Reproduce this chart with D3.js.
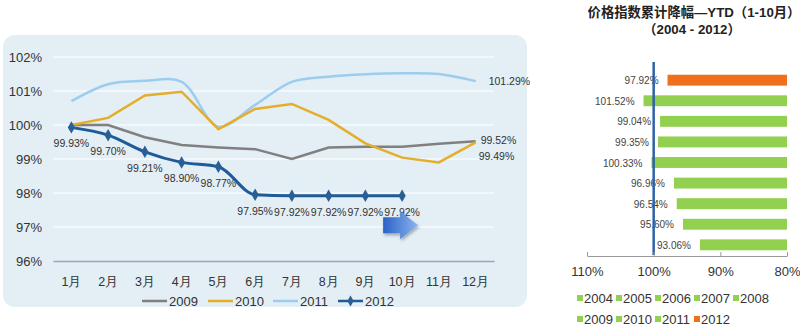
<!DOCTYPE html>
<html><head><meta charset="utf-8">
<script src="https://cdn.jsdelivr.net/npm/d3@7"></script>
<style>
html,body{margin:0;padding:0;background:#fff;}
svg{display:block;font-family:"Liberation Sans","Noto Sans CJK SC",Arial,sans-serif;}
</style></head>
<body>
<svg id="c" width="800" height="336"></svg>
<script>
// ---------- data ----------
const months = ["1月","2月","3月","4月","5月","6月","7月","8月","9月","10月","11月","12月"];
const yTicks = [96, 97, 98, 99, 100, 101, 102];
const s2009 = [100.00, 100.00, 99.64, 99.41, 99.34, 99.29, 99.00, 99.34, 99.36, 99.36, 99.45, 99.52];
const s2010 = [100.00, 100.21, 100.87, 100.98, 99.88, 100.47, 100.62, 100.15, 99.46, 99.04, 98.90, 99.49];
const s2011 = [100.70, 101.20, 101.30, 101.27, 99.95, 100.59, 101.27, 101.42, 101.49, 101.52, 101.50, 101.29];
const s2012 = [99.93, 99.70, 99.21, 98.90, 98.77, 97.95, 97.92, 97.92, 97.92, 97.92];
const seriesNames = ["2009", "2010", "2011", "2012"];

const barYears = ["2012", "2011", "2010", "2009", "2008", "2007", "2006", "2005", "2004"];
const barValues = [97.92, 101.52, 99.04, 99.35, 100.33, 96.96, 96.54, 95.60, 93.06];
const barTicks = [110, 100, 90, 80];
const legendYears = ["2004","2005","2006","2007","2008","2009","2010","2011","2012"];

// ---------- left chart ----------
const svg = d3.select("#c");
const defs = svg.append("defs");
const grad = defs.append("linearGradient").attr("id","arrowG").attr("x1","0").attr("x2","1").attr("y1","0").attr("y2","0");
grad.append("stop").attr("offset","0").attr("stop-color","#2a62c8");
grad.append("stop").attr("offset","1").attr("stop-color","#8db4ee");
const sh = defs.append("filter").attr("id","sh").attr("x","-10%").attr("y","-10%").attr("width","130%").attr("height","140%");
sh.append("feDropShadow").attr("dx",1).attr("dy",2).attr("stdDeviation",1.5).attr("flood-color","#000").attr("flood-opacity",0.3);

svg.append("rect").attr("x",3).attr("y",35).attr("width",524).attr("height",272)
  .attr("rx",12).attr("fill","#e3eef5");

const x = d3.scaleBand().domain(months).range([53, 494]);
const y = d3.scaleLinear().domain([96, 102]).range([261, 57]);
const cx = (i) => x(months[i]) + x.bandwidth()/2;

// gridlines
svg.append("g").selectAll("line").data(yTicks.filter(t => t !== 96)).join("line")
  .attr("x1",53).attr("x2",494).attr("y1",d=>y(d)).attr("y2",d=>y(d))
  .attr("stroke","#ffffff").attr("stroke-width",1.2);

// y axis labels
const yAxis = d3.axisLeft(y).tickValues(yTicks).tickFormat(d => d + "%").tickSize(0).tickPadding(11);
const gy = svg.append("g").attr("transform","translate(53,0)").call(yAxis);
gy.select(".domain").remove();
gy.selectAll("text").attr("font-size",13).attr("fill","#333");

// x axis
const xAxis = d3.axisBottom(x).tickSize(0).tickPadding(16);
const gx = svg.append("g").attr("transform",`translate(0,${y(96)})`).call(xAxis);
gx.select(".domain").attr("stroke","#9aa7b2").attr("stroke-width",1.5);
gx.selectAll("text").attr("font-size",12.5).attr("fill","#333");

const lineL = d3.line().x((d,i)=>cx(i)).y(d=>y(d));
const lineS = d3.line().x((d,i)=>cx(i)).y(d=>y(d)).curve(d3.curveMonotoneX);
const lineC = d3.line().x((d,i)=>cx(i)).y(d=>y(d)).curve(d3.curveCatmullRom.alpha(0.5));

svg.append("path").datum(s2011).attr("d",lineC).attr("fill","none").attr("stroke","#9ccdee").attr("stroke-width",2.5);
svg.append("path").datum(s2009).attr("d",lineL).attr("fill","none").attr("stroke","#808080").attr("stroke-width",2.5);
svg.append("path").datum(s2010).attr("d",lineL).attr("fill","none").attr("stroke","#e5ae2a").attr("stroke-width",2.5);
svg.append("path").datum(s2012).attr("d",lineS).attr("fill","none").attr("stroke","#1f5b98").attr("stroke-width",3);

const diamond = d3.symbol().type(d3.symbolDiamond).size(45);
svg.append("g").selectAll("path").data(s2012).join("path")
  .attr("d",diamond).attr("transform",(d,i)=>`translate(${cx(i)},${y(d)})`).attr("fill","#2a5f96");

svg.append("g").selectAll("text").data(s2012).join("text")
  .attr("x",(d,i)=>cx(i)).attr("y",d=>y(d)+20)
  .attr("text-anchor","middle").attr("font-size",10.5).attr("fill","#333")
  .text(d=>d.toFixed(2)+"%");

// end labels
const endLabels = [
  {v: s2011[11], t: s2011[11].toFixed(2)+"%", dx: 13, dy: 4},
  {v: s2009[11], t: s2009[11].toFixed(2)+"%", dx: 5, dy: 3},
  {v: s2010[11], t: s2010[11].toFixed(2)+"%", dx: 3, dy: 18}
];
svg.append("g").selectAll("text").data(endLabels).join("text")
  .attr("x",d=>cx(11)+d.dx).attr("y",d=>y(d.v)+d.dy)
  .attr("font-size",10.5).attr("fill","#333").text(d=>d.t);

// arrow
const ax0 = cx(9) - 19, ay = y(97.05);
svg.append("path")
  .attr("d",`M${ax0},${ay-8} L${ax0+17},${ay-8} L${ax0+17},${ay-14} L${ax0+35},${ay} L${ax0+17},${ay+14} L${ax0+17},${ay+8} L${ax0},${ay+8} Z`)
  .attr("fill","url(#arrowG)").attr("filter","url(#sh)");

// legend
const legColors = {"2009":"#808080","2010":"#e5ae2a","2011":"#9ccdee","2012":"#1f5b98"};
const legX = [142, 208, 273, 338];
const lg = svg.append("g").selectAll("g").data(seriesNames).join("g")
  .attr("transform",(d,i)=>`translate(${legX[i]},301)`);
lg.append("line").attr("x1",0).attr("x2",25).attr("stroke",d=>legColors[d]).attr("stroke-width",2.5);
lg.filter(d=>d==="2012").append("path").attr("d",d3.symbol().type(d3.symbolDiamond).size(35)).attr("transform","translate(12.5,0)").attr("fill","#2a5f96");
lg.append("text").attr("x",27).attr("y",5).attr("font-size",13).attr("fill","#333").text(d=>d);

// ---------- right chart ----------
svg.append("text").attr("x",694).attr("y",17).attr("text-anchor","middle")
  .attr("font-size",13.3).attr("font-weight","bold").attr("fill","#222")
  .text("价格指数累计降幅—YTD（1-10月）");
svg.append("text").attr("x",692).attr("y",34).attr("text-anchor","middle")
  .attr("font-size",13.3).attr("font-weight","bold").attr("fill","#222")
  .text("（2004 - 2012）");

const bx = d3.scaleLinear().domain([110, 80]).range([587, 787]);
const by = d3.scaleBand().domain(barYears).range([70, 255]).paddingInner(0.47).paddingOuter(0.23);

svg.append("g").selectAll("rect").data(barValues).join("rect")
  .attr("x",d=>bx(d)).attr("width",d=>bx(80)-bx(d))
  .attr("y",(d,i)=>by(barYears[i])).attr("height",by.bandwidth())
  .attr("fill",(d,i)=>barYears[i]==="2012" ? "#ef6f1f" : "#92d050");

svg.append("g").selectAll("text").data(barValues).join("text")
  .attr("x",d=>bx(d)-9).attr("y",(d,i)=>by(barYears[i])+by.bandwidth()/2+4)
  .attr("text-anchor","end").attr("font-size",10).attr("fill","#444")
  .text(d=>d.toFixed(2)+"%");

svg.append("line").attr("x1",bx(100)).attr("x2",bx(100)).attr("y1",62).attr("y2",255)
  .attr("stroke","#2e62a8").attr("stroke-width",2.5);

const bAxis = d3.axisBottom(bx).tickValues(barTicks).tickFormat(d=>d+"%").tickSizeInner(-4).tickSizeOuter(0).tickPadding(11);
const gb = svg.append("g").attr("transform","translate(0,256)").call(bAxis);
gb.select(".domain").attr("stroke","#999");
gb.selectAll(".tick line").attr("stroke","#999");
gb.selectAll("text").attr("font-size",13).attr("fill","#333");

// right legend
const rl = svg.append("g").selectAll("g").data(legendYears).join("g")
  .attr("transform",(d,i)=>`translate(${577 + (i%5)*39},${i<5 ? 298 : 319})`);
rl.append("rect").attr("x",0).attr("y",-3).attr("width",6).attr("height",6)
  .attr("fill",d=>d==="2012" ? "#ef6f1f" : "#92d050");
rl.append("text").attr("x",7).attr("y",5).attr("font-size",13).attr("fill","#333").text(d=>d);
</script>
</body></html>
